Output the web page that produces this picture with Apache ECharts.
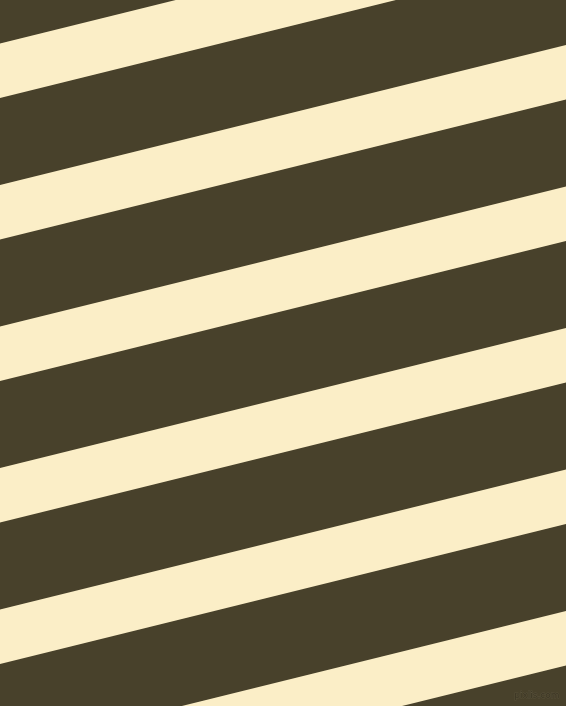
<!DOCTYPE html>
<html>
<head>
<meta charset="utf-8">
<script src="https://cdn.jsdelivr.net/npm/echarts@6/dist/echarts.min.js"></script>
<style>
  html, body { margin: 0; padding: 0; background: #48412b; }
  #main { width: 566px; height: 706px; }
</style>
</head>
<body>
<div id="main"></div>
<script>
// stripe top edge, measured at the left border (x = 0), in pixels from the top
var stripeTops = [-98, 43.5, 185, 326.5, 468, 609.5, 751];
// vertical thickness of each cream stripe
var stripeHeights = [54.5, 54.5, 54.5, 54.5, 54.5, 54.5, 54.5];
// rise of the stripes per pixel to the right
var stripeSlope = 0.2475;
var xRange = [0, 566];
var yRange = [0, 706];

var chart = echarts.init(document.getElementById('main'));

var stripeData = stripeTops.map(function (t, i) {
    return [t, stripeHeights[i]];
});

chart.setOption({
    backgroundColor: '#48412b',
    animation: false,
    grid: { left: 0, right: 0, top: 0, bottom: 0 },
    xAxis: { type: 'value', min: xRange[0], max: xRange[1], show: false },
    yAxis: { type: 'value', min: yRange[0], max: yRange[1], inverse: true, show: false },
    series: [{
        type: 'custom',
        data: stripeData,
        renderItem: function (params, api) {
            var top = api.value(0);
            var h = api.value(1);
            var x0 = xRange[0], x1 = xRange[1];
            var drop = stripeSlope * (x1 - x0);
            var pts = [
                api.coord([x0, top]),
                api.coord([x1, top - drop]),
                api.coord([x1, top - drop + h]),
                api.coord([x0, top + h])
            ];
            return {
                type: 'polygon',
                shape: { points: pts },
                style: { fill: '#fbeec7' }
            };
        }
    }],
    graphic: [{
        type: 'text',
        right: 6,
        bottom: 5,
        style: {
            text: 'pixlis.com',
            font: '9px "DejaVu Sans"',
            fill: '#3c3624',
            stroke: '#57503a',
            lineWidth: 1
        }
    }]
});
</script>
</body>
</html>
